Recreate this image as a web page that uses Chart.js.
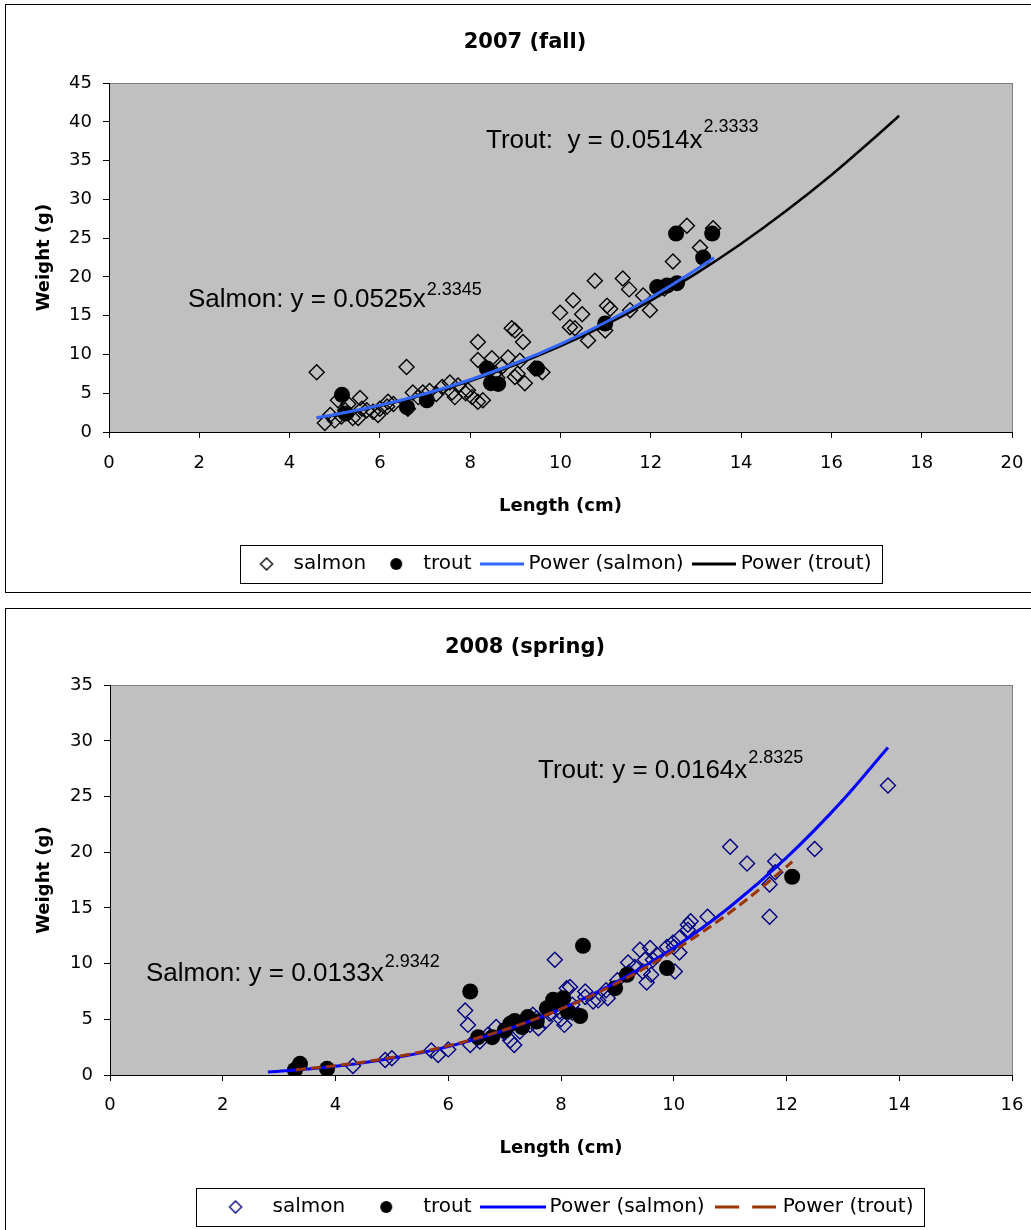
<!DOCTYPE html>
<html><head><meta charset="utf-8">
<script src="https://cdn.jsdelivr.net/npm/chart.js@4.4.1/dist/chart.umd.min.js"></script>
<style>
html,body{margin:0;padding:0;background:#fff;overflow:hidden;width:1031px;height:1230px;}
.frame{position:absolute;border:1px solid #000;background:#fff;}
#f1{left:5px;top:4px;width:1040px;height:587px;}
#f2{left:5px;top:608px;width:1040px;height:640px;}
canvas{position:absolute;}
#c1{left:6px;top:5px;}
#c2{left:6px;top:609px;}
</style></head>
<body>
<div class="frame" id="f1"></div>
<div class="frame" id="f2"></div>
<canvas id="c1" width="1025" height="586"></canvas>
<canvas id="c2" width="1025" height="621"></canvas>
<script>
// ---------- 2007 (fall) ----------
const fallTitle = '2007 (fall)';
const fallSalmonX = [4.6,4.78,5.0,5.07,5.23,5.4,5.52,5.56,5.71,5.96,6.16,6.18,6.59,6.62,6.73,6.85,6.95,7.38,7.55,7.6,7.66,7.73,7.95,8.04,8.17,8.28,8.17,8.17,8.48,8.55,8.7,8.84,8.92,8.99,8.99,9.17,9.21,9.43,9.6,9.99,10.21,10.28,10.32,10.48,10.61,10.76,10.99,11.03,11.1,11.38,11.52,11.54,11.83,11.98,12.49,12.8,13.09,13.38,5.3,5.85,6.3,7.1,7.25,7.9,8.6,9.05,9.1,12.3,4.9,5.15,5.6,6.0];
const fallSalmonY = [7.7,1.15,1.5,4.1,2.8,1.8,1.8,4.4,2.8,2.2,3.3,3.9,8.4,3.0,5.1,4.5,5.1,5.8,6.4,5.1,4.5,6.0,5.4,4.5,3.9,4.1,11.6,9.3,9.5,7.6,8.4,9.6,13.4,13.1,7.1,11.6,6.3,8.2,7.7,15.4,13.5,17.0,13.4,15.2,11.8,19.5,13.1,16.3,15.9,19.8,18.4,15.7,17.6,15.7,22.0,26.6,23.8,26.3,3.6,2.6,3.6,5.3,4.9,5.0,7.0,7.5,9.2,18.5,2.2,2.0,3.0,3.0];
const fallTroutX = [5.16,5.25,6.6,7.04,8.37,8.46,8.62,9.48,10.99,12.14,12.36,12.58,12.56,13.16,13.36];
const fallTroutY = [4.8,2.4,3.2,4.1,8.2,6.3,6.2,8.2,14.0,18.7,18.9,19.2,25.6,22.5,25.6];
// trend lines
const fallSalmonFitX = [4.6,5,6,7,8,9,10,11,12,13,13.4];
const fallSalmonFitY = [1.85,2.25,3.44,4.93,6.74,8.87,11.34,14.16,17.35,20.93,22.48];
const fallTroutFitX = [4.6,5,6,7,8,9,10,11,12,13,14,15,16,17,17.5];
const fallTroutFitY = [1.81,2.20,3.36,4.82,6.58,8.66,11.07,13.83,16.95,20.43,24.29,28.54,33.16,38.19,40.8];
const fallXTicks = {min:0, max:20, step:2};
const fallYTicks = {min:0, max:45, step:5};

// ---------- 2008 (spring) ----------
const springTitle = '2008 (spring)';
const springSalmonX = [4.31,4.88,5.0,5.7,5.82,6.0,6.3,6.35,6.39,6.56,6.7,6.85,7.0,7.1,7.17,7.27,7.3,7.45,7.5,7.57,7.6,7.72,7.8,7.89,7.98,8.0,8.06,8.1,8.16,8.2,8.2,8.3,8.43,8.43,8.57,8.66,8.8,8.83,9.0,9.19,9.2,9.31,9.4,9.45,9.49,9.52,9.58,9.6,9.63,9.7,9.88,9.99,10.0,10.02,10.1,10.1,10.25,10.25,10.3,10.6,11.0,11.3,11.7,11.7,11.8,11.8,12.5,13.8];
const springSalmonY = [0.81,1.35,1.5,2.2,1.8,2.3,5.8,4.5,2.7,3.0,3.6,4.3,3.8,3.1,2.7,3.9,4.6,4.5,5.4,5.1,4.2,4.8,5.5,10.35,5.7,5.0,4.5,7.8,7.9,6.3,5.6,5.4,7.0,7.5,6.6,6.7,7.6,6.9,8.5,10.1,9.2,9.7,11.25,9.3,10.35,8.3,11.4,9.0,10.35,10.8,11.5,11.9,11.5,9.3,11.0,12.3,13.05,13.5,13.8,14.2,20.5,19.0,17.1,14.2,18.2,19.2,20.3,26.0];
const springTroutX = [3.28,3.37,3.85,6.39,6.53,6.78,7.0,7.1,7.18,7.31,7.41,7.57,7.75,7.86,7.95,8.04,8.12,8.34,8.39,8.96,9.17,9.88,12.1];
const springTroutY = [0.45,1.0,0.55,7.5,3.4,3.4,4.0,4.6,4.85,4.3,5.2,4.8,6.0,6.75,6.5,6.9,5.7,5.3,11.6,7.8,9.0,9.6,17.8];
const springSalmonFitX = [2.8,3,4,5,6,7,8,9,10,11,12,13,13.8];
const springSalmonFitY = [0.27,0.33,0.78,1.50,2.55,4.02,5.94,8.39,11.43,15.11,19.51,24.68,29.4];
const springTroutFitX = [3.3,4,5,6,7,8,9,10,11,12,12.1];
const springTroutFitY = [0.48,0.83,1.57,2.62,4.06,5.93,8.27,11.16,14.61,18.70,19.15];
const springXTicks = {min:0, max:16, step:2};
const springYTicks = {min:0, max:35, step:5};

const seriesNames = ['salmon','trout','Power (salmon)','Power (trout)'];
const xTitle = 'Length (cm)';
const yTitle = 'Weight (g)';

// ---------- helpers ----------
const FONT = "'DejaVu Sans', sans-serif";
const AFONT = "'Liberation Sans', Arial, sans-serif";
const zip = (xs, ys) => xs.map((x, i) => ({x, y: ys[i]}));

function iconDiamond(color){
  const c = document.createElement('canvas'); c.width = 16; c.height = 16;
  const g = c.getContext('2d'); g.strokeStyle = color; g.lineWidth = 1.4;
  g.beginPath(); g.moveTo(8,2); g.lineTo(14,8); g.lineTo(8,14); g.lineTo(2,8); g.closePath(); g.stroke();
  return c;
}
function iconCircle(color){
  const c = document.createElement('canvas'); c.width = 16; c.height = 16;
  const g = c.getContext('2d'); g.fillStyle = color;
  g.beginPath(); g.arc(8,8,6,0,Math.PI*2); g.fill();
  return c;
}
function iconLine(color, w, lw, dash){
  const c = document.createElement('canvas'); c.width = w; c.height = 6;
  const g = c.getContext('2d'); g.strokeStyle = color; g.lineWidth = lw;
  if (dash) g.setLineDash(dash);
  g.beginPath(); g.moveTo(0,3); g.lineTo(w,3); g.stroke();
  return c;
}

const plotBg = {
  id: 'plotBg',
  beforeDraw(chart){
    const {ctx, chartArea: a} = chart;
    ctx.save();
    ctx.fillStyle = '#C0C0C0';
    ctx.fillRect(a.left, a.top, a.right - a.left, a.bottom - a.top);
    ctx.strokeStyle = '#808080'; ctx.lineWidth = 1;
    ctx.strokeRect(Math.round(a.left) + 0.5, Math.round(a.top) + 0.5, Math.round(a.right - a.left), Math.round(a.bottom - a.top));
    ctx.restore();
  }
};
const legendFrame = {
  id: 'legendFrame',
  afterDraw(chart, args, opts){
    const lg = chart.legend; if (!lg || !lg.legendHitBoxes || !lg.legendHitBoxes.length) return;
    const hb = lg.legendHitBoxes;
    let l = Infinity, r = -Infinity;
    hb.forEach(h => { l = Math.min(l, h.left); r = Math.max(r, h.left + h.width); });
    const cy = hb[0].top + hb[0].height / 2;
    const ml = opts.marginLeft, mr = opts.marginRight;
    const ctx = chart.ctx; ctx.save();
    ctx.strokeStyle = '#000'; ctx.lineWidth = 1;
    ctx.strokeRect(Math.round(l - ml) + 0.5, Math.round(cy - 19) + 0.5, Math.round(r - l + ml + mr), 38);
    ctx.restore();
  }
};
const equations = {
  id: 'equations',
  afterDraw(chart, args, opts){
    const ctx = chart.ctx;
    (opts.items || []).forEach(it => {
      ctx.save();
      ctx.fillStyle = '#000'; ctx.textBaseline = 'alphabetic'; ctx.textAlign = 'left';
      ctx.font = '26px ' + AFONT;
      ctx.fillText(it.text, it.x, it.y);
      const w = ctx.measureText(it.text).width;
      ctx.font = '18px ' + AFONT;
      ctx.fillText(it.sup, it.x + w + 1, it.supY);
      ctx.restore();
    });
  }
};

function makeChart(id, o){
  const icons = o.icons;
  return new Chart(document.getElementById(id), {
    type: 'scatter',
    data: { datasets: [
      { label: seriesNames[0], data: zip(o.sx, o.sy), pointStyle: 'rectRot', pointRadius: 7.5,
        borderColor: o.salmonColor, backgroundColor: 'rgba(0,0,0,0)', pointBorderWidth: 1.4, order: 4 },
      { label: seriesNames[1], data: zip(o.tx, o.ty), pointStyle: 'circle', pointRadius: 8,
        borderColor: '#000', backgroundColor: '#000', pointBorderWidth: 0, order: 3 },
      { label: seriesNames[2], data: zip(o.sfx, o.sfy), showLine: true, pointRadius: 0,
        borderColor: o.sLine, borderWidth: 3, cubicInterpolationMode: 'monotone', order: o.sOrder },
      { label: seriesNames[3], data: zip(o.tfx, o.tfy), showLine: true, pointRadius: 0,
        borderColor: o.tLine, borderWidth: o.tWidth, borderDash: o.tDash, cubicInterpolationMode: 'monotone', order: o.tOrder }
    ]},
    options: {
      responsive: false, animation: false, events: [],
      layout: { padding: { left: 24, right: 11, top: 0, bottom: o.padBottom } },
      scales: {
        x: { type: 'linear', min: o.xt.min, max: o.xt.max,
          ticks: { stepSize: o.xt.step, autoSkip: false, maxRotation: 0, color: '#000', font: {family: FONT, size: 18}, padding: o.xPad },
          grid: { drawOnChartArea: false, drawTicks: true, tickLength: 6, color: '#000' },
          border: { color: '#000', width: 1 },
          title: { display: true, text: xTitle, color: '#000', font: {family: FONT, size: 18, weight: 'bold'}, padding: {top: 0, bottom: o.xTitlePad} },
          afterFit(s){ s.height = o.xHeight; s.paddingLeft = 0; s.paddingRight = 19; } },
        y: { type: 'linear', min: o.yt.min, max: o.yt.max,
          ticks: { stepSize: o.yt.step, autoSkip: false, color: '#000', font: {family: FONT, size: 18}, padding: 11 },
          grid: { drawOnChartArea: false, drawTicks: true, tickLength: 6, color: '#000' },
          border: { color: '#000', width: 1 },
          title: { display: true, text: yTitle, color: '#000', font: {family: FONT, size: 18, weight: 'bold'}, padding: {top: 4, bottom: 0} },
          afterFit(s){ s.width = o.yWidth; } }
      },
      plugins: {
        title: { display: true, text: o.title, color: '#000', font: {family: FONT, size: 21, weight: 'bold'}, padding: o.titlePad },
        legend: { display: true, position: 'bottom', fullSize: false,
          labels: { usePointStyle: true, pointStyleWidth: o.boxW, boxHeight: 10, padding: o.legPad, color: '#000',
            font: {family: FONT, size: 20},
            generateLabels(chart){
              return chart.data.datasets.map((ds, i) => ({
                text: ds.label, pointStyle: icons[i], fillStyle: 'rgba(0,0,0,0)', strokeStyle: 'rgba(0,0,0,0)',
                lineWidth: 0, hidden: false, datasetIndex: i, fontColor: '#000'
              }));
            } } },
        tooltip: { enabled: false },
        legendFrame: { marginLeft: o.legML, marginRight: 10 },
        equations: { items: o.eq }
      }
    },
    plugins: [plotBg, legendFrame, equations]
  });
}

makeChart('c1', {
  title: fallTitle, sx: fallSalmonX, sy: fallSalmonY, tx: fallTroutX, ty: fallTroutY,
  sfx: fallSalmonFitX, sfy: fallSalmonFitY, tfx: fallTroutFitX, tfy: fallTroutFitY,
  xt: fallXTicks, yt: fallYTicks, salmonColor: '#000', sLine: '#3366FF', tLine: '#000', tWidth: 2.5, tDash: [],
  sOrder: 1, tOrder: 2, padBottom: 7, xPad: 15, xTitlePad: 24, xHeight: 109, yWidth: 79, boxW: 34, legPad: 13, legML: 10,
  titlePad: {top: 25, bottom: 28},
  icons: [iconDiamond('#000'), iconCircle('#000'), iconLine('#3366FF', 44, 3), iconLine('#000', 44, 3)],
  eq: [ {text: 'Trout:  y = 0.0514x', sup: '2.3333', x: 480, y: 143, supY: 127},
        {text: 'Salmon: y = 0.0525x', sup: '2.3345', x: 182, y: 302, supY: 290} ]
});
makeChart('c2', {
  title: springTitle, sx: springSalmonX, sy: springSalmonY, tx: springTroutX, ty: springTroutY,
  sfx: springSalmonFitX, sfy: springSalmonFitY, tfx: springTroutFitX, tfy: springTroutFitY,
  xt: springXTicks, yt: springYTicks, salmonColor: '#000080', sLine: '#0000FF', tLine: '#993300', tWidth: 3, tDash: [10, 5],
  sOrder: 2, tOrder: 1, padBottom: 3, xPad: 14, xTitlePad: 24, xHeight: 108, yWidth: 80, boxW: 54, legPad: 14, legML: 13,
  titlePad: {top: 26, bottom: 25},
  icons: [iconDiamond('#000080'), iconCircle('#000'), iconLine('#0000FF', 66, 3), iconLine('#993300', 61, 3, [24, 13])],
  eq: [ {text: 'Trout: y = 0.0164x', sup: '2.8325', x: 532, y: 169, supY: 154},
        {text: 'Salmon: y = 0.0133x', sup: '2.9342', x: 140, y: 372, supY: 358} ]
});
</script>
</body></html>
